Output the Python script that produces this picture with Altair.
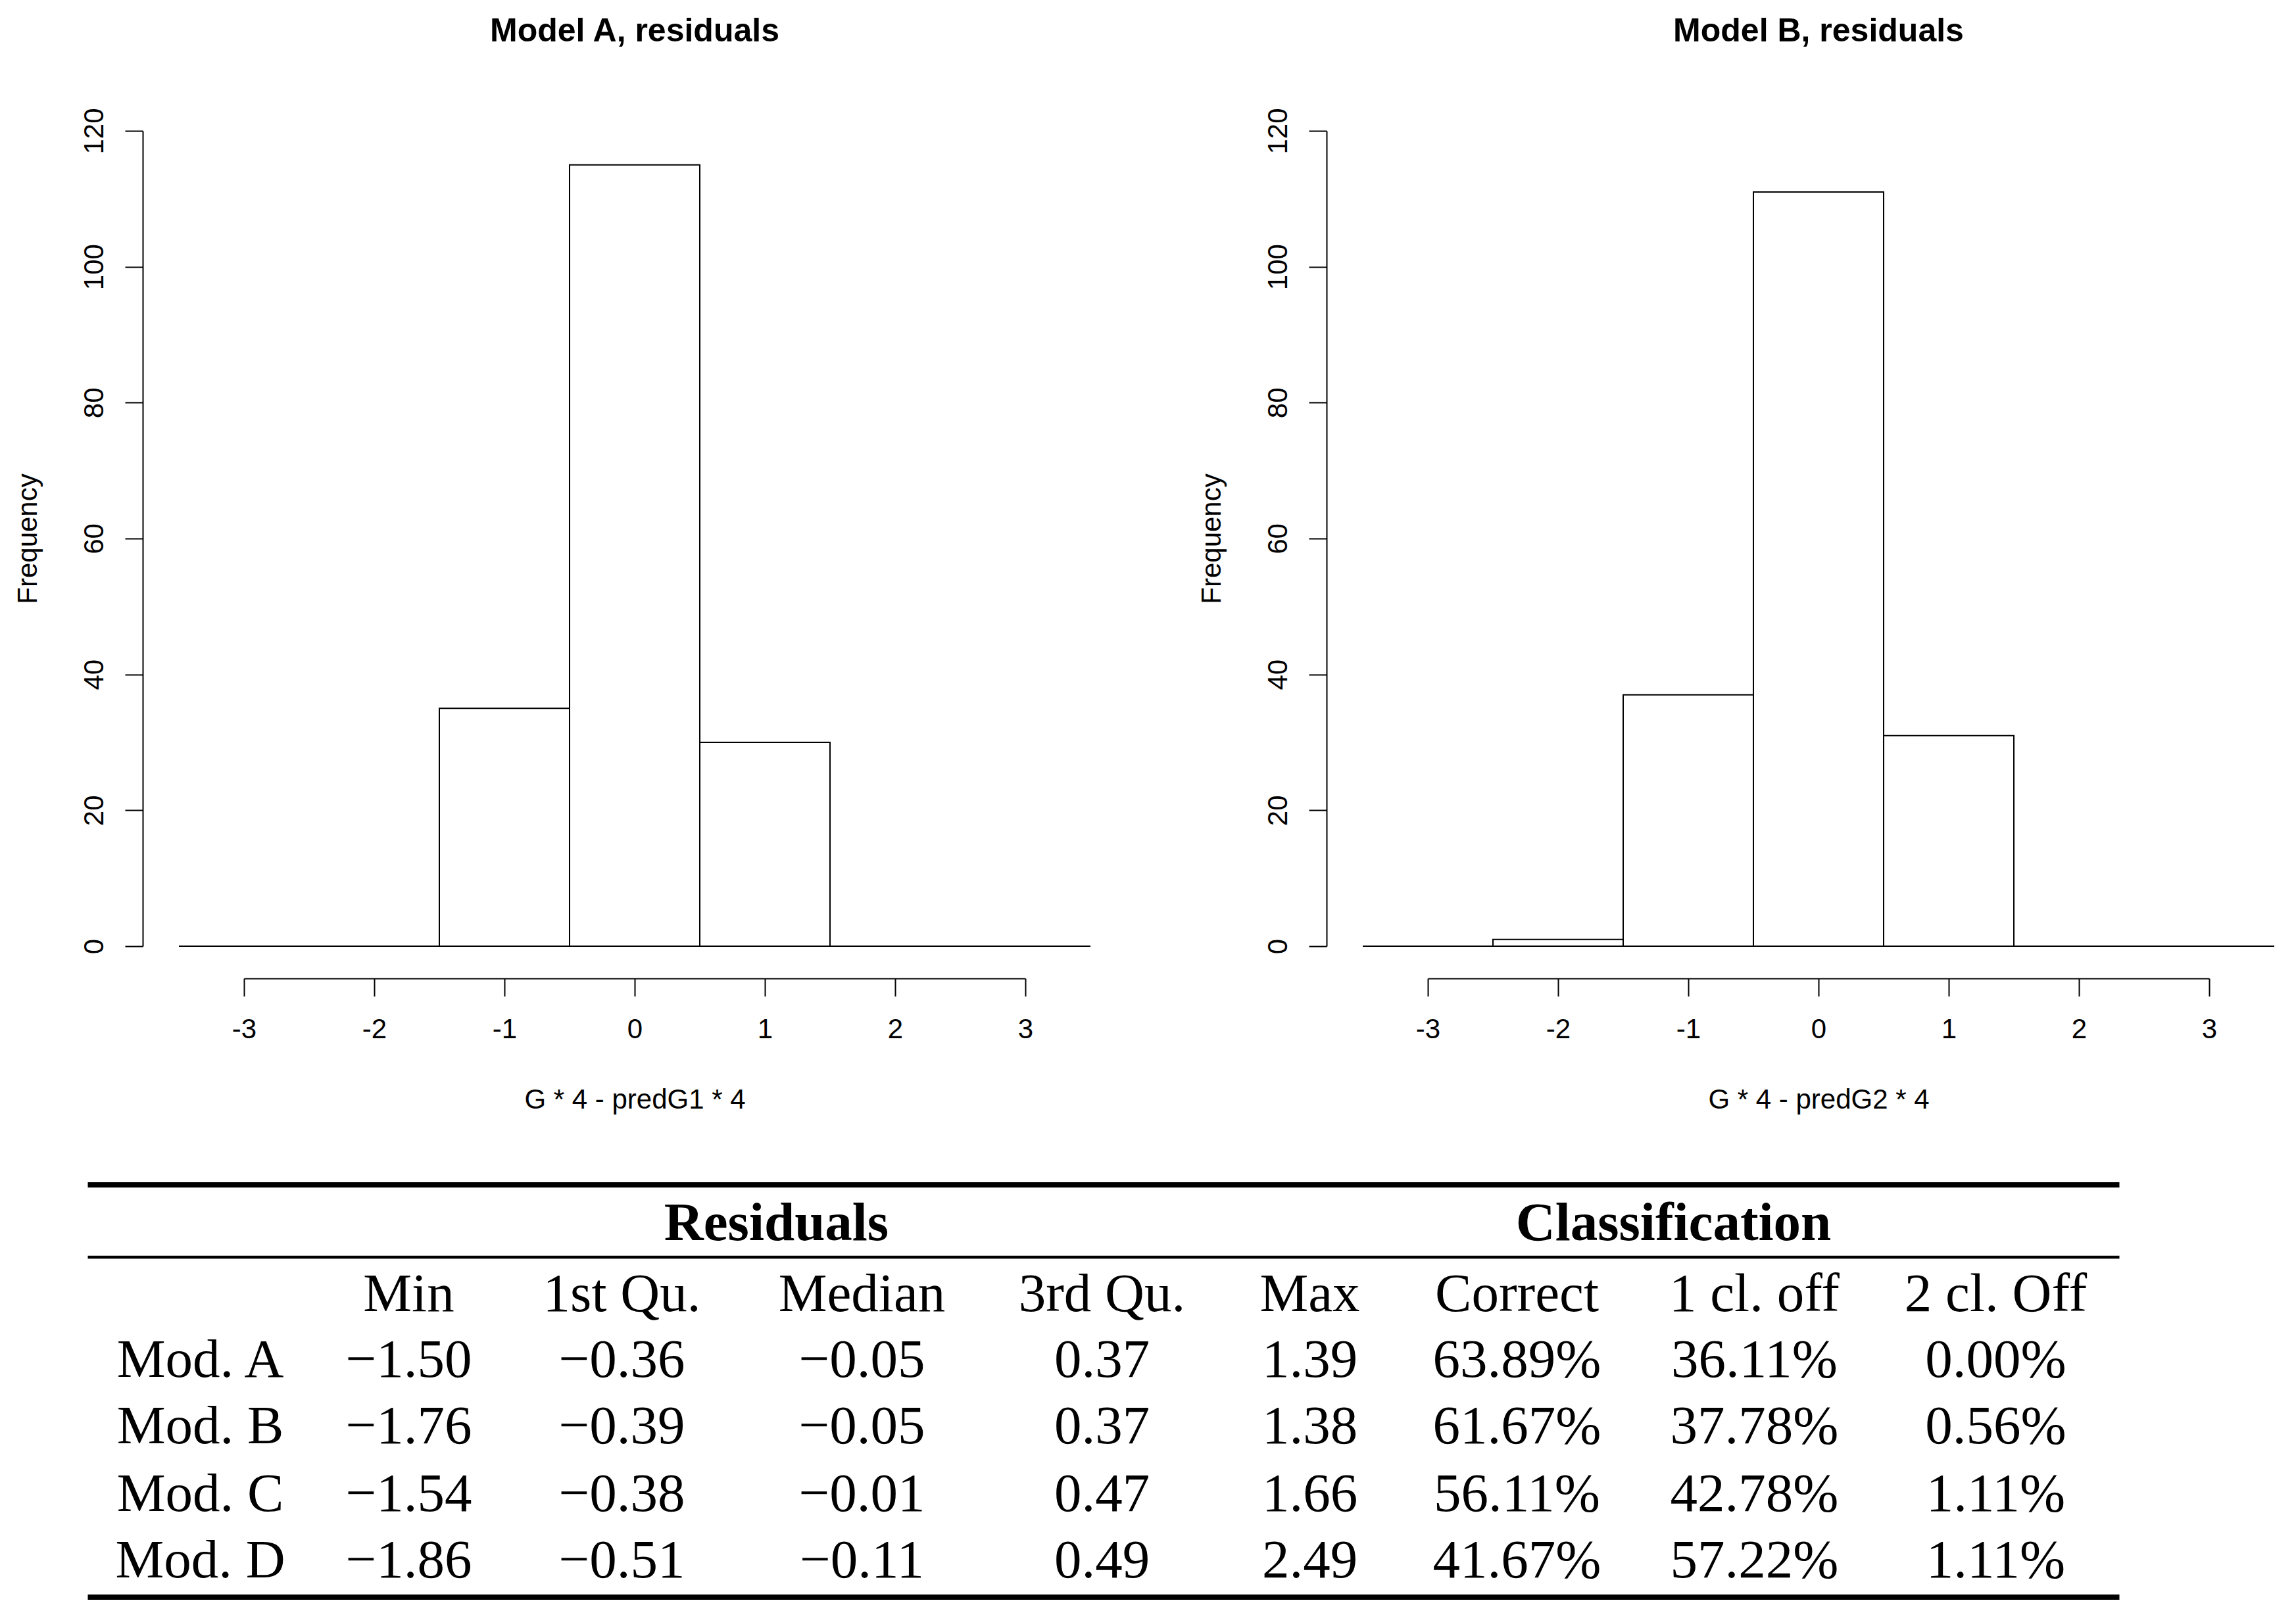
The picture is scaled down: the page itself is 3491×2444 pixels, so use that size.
import altair as alt
import pandas as pd

# ---------------- data ----------------
bin_starts = [-3.5, -2.5, -1.5, -0.5, 0.5, 1.5, 2.5]
bin_width = 1.0
counts_a = [0, 0, 35, 115, 30, 0, 0]
counts_b = [0, 1, 37, 111, 31, 0, 0]
x_ticks = [-3, -2, -1, 0, 1, 2, 3]
y_ticks = [0, 20, 40, 60, 80, 100, 120]

titles = ["Model A, residuals", "Model B, residuals"]
x_titles = ["G * 4 - predG1 * 4", "G * 4 - predG2 * 4"]

group_headers = ["Residuals", "Classification"]
col_headers = ["Min", "1st Qu.", "Median", "3rd Qu.", "Max", "Correct", "1 cl. off", "2 cl. Off"]
row_labels = ["Mod. A", "Mod. B", "Mod. C", "Mod. D"]
min_vals = [-1.50, -1.76, -1.54, -1.86]
q1_vals = [-0.36, -0.39, -0.38, -0.51]
median_vals = [-0.05, -0.05, -0.01, -0.11]
q3_vals = [0.37, 0.37, 0.47, 0.49]
max_vals = [1.39, 1.38, 1.66, 2.49]
correct_vals = [0.6389, 0.6167, 0.5611, 0.4167]
off1_vals = [0.3611, 0.3778, 0.4278, 0.5722]
off2_vals = [0.0000, 0.0056, 0.0111, 0.0111]

# ---------------- layout (pixels) ----------------
SANS = "Liberation Sans"
SERIF = "Liberation Serif"
PLOT_W, PLOT_H = 1188, 1240
# table: horizontal positions in page pixels, vertical relative to table top
TABLE_X0, TABLE_X1 = 371.5, 3223.5
TABLE_H = 684
COL_X = [305, 622, 946, 1311, 1676, 1992, 2307, 2668, 3035]
GROUP_X = [1181, 2545]
GROUP_Y = 136
HEADER_Y = 244
ROW_Y = [344, 445, 548, 649]
RULE_X = (134, 3223)
THICK_RULE_Y = [52, 679]
THIN_RULE_Y = [162]


def histogram(counts, title, xtitle):
    df = pd.DataFrame({
        "start": bin_starts,
        "end": [s + bin_width for s in bin_starts],
        "count": counts,
    })
    return alt.Chart(df).mark_rect(
        fill="white", stroke="black", strokeWidth=2
    ).encode(
        x=alt.X("start:Q",
                scale=alt.Scale(domain=[-3, 3], nice=False, zero=False),
                axis=alt.Axis(values=x_ticks, title=xtitle, offset=49,
                              labelBaseline="alphabetic", labelPadding=63,
                              labelFlush=False, labelOverlap=False,
                              labelExpr="replace(datum.label, '\u2212', '-')",
                              titleBaseline="alphabetic", titleY=197)),
        x2="end:Q",
        y=alt.Y("count:Q",
                scale=alt.Scale(domain=[0, 120], nice=False),
                axis=alt.Axis(values=y_ticks, title="Frequency", offset=154,
                              labelAngle=270, labelAlign="center",
                              labelBaseline="alphabetic", labelPadding=34,
                              labelFlush=False, labelOverlap=False,
                              titleAngle=270, titleAlign="center",
                              titleBaseline="alphabetic", titleX=-162,
                              titleY=PLOT_H / 2)),
        y2=alt.datum(0),
    ).properties(
        width=PLOT_W, height=PLOT_H,
        title=alt.TitleParams(text=title, font=SANS, fontSize=50,
                              fontWeight="bold", color="black",
                              anchor="middle", frame="group",
                              baseline="alphabetic", offset=51),
    )


hist_a = histogram(counts_a, titles[0], x_titles[0])
hist_b = histogram(counts_b, titles[1], x_titles[1])

# ---------------- table ----------------
xs = alt.Scale(domain=[TABLE_X0, TABLE_X1], nice=False, zero=False)
ys = alt.Scale(domain=[0, TABLE_H], nice=False, zero=False, reverse=True)
X = lambda f: alt.X(f, scale=xs, axis=None)
Y = lambda f: alt.Y(f, scale=ys, axis=None)

text_style = dict(font=SERIF, fontSize=83, align="center",
                  baseline="alphabetic", color="black")

group_df = pd.DataFrame({"text": group_headers, "x": GROUP_X,
                         "y": [GROUP_Y] * len(group_headers)})
header_df = pd.DataFrame({"text": col_headers, "x": COL_X[1:],
                          "y": [HEADER_Y] * len(col_headers)})
label_df = pd.DataFrame({"text": row_labels, "x": [COL_X[0]] * len(row_labels),
                         "y": ROW_Y})

num_rows = []
for ci, vals in enumerate([min_vals, q1_vals, median_vals, q3_vals, max_vals]):
    for ri, v in enumerate(vals):
        num_rows.append({"value": v, "x": COL_X[1 + ci], "y": ROW_Y[ri]})
num_df = pd.DataFrame(num_rows)

pct_rows = []
for ci, vals in enumerate([correct_vals, off1_vals, off2_vals]):
    for ri, v in enumerate(vals):
        pct_rows.append({"value": v, "x": COL_X[6 + ci], "y": ROW_Y[ri]})
pct_df = pd.DataFrame(pct_rows)

thick_df = pd.DataFrame({"y": THICK_RULE_Y, "x": [RULE_X[0]] * 2, "x2": [RULE_X[1]] * 2})
thin_df = pd.DataFrame({"y": THIN_RULE_Y, "x": [RULE_X[0]], "x2": [RULE_X[1]]})

thick_rules = alt.Chart(thick_df).mark_rule(color="black", strokeWidth=8).encode(
    x=X("x:Q"), x2="x2:Q", y=Y("y:Q"))
thin_rules = alt.Chart(thin_df).mark_rule(color="black", strokeWidth=4.5).encode(
    x=X("x:Q"), x2="x2:Q", y=Y("y:Q"))
groups = alt.Chart(group_df).mark_text(fontWeight="bold", **text_style).encode(
    x=X("x:Q"), y=Y("y:Q"), text="text:N")
headers = alt.Chart(header_df).mark_text(**text_style).encode(
    x=X("x:Q"), y=Y("y:Q"), text="text:N")
labels = alt.Chart(label_df).mark_text(**text_style).encode(
    x=X("x:Q"), y=Y("y:Q"), text="text:N")
nums = alt.Chart(num_df).mark_text(**text_style).encode(
    x=X("x:Q"), y=Y("y:Q"), text=alt.Text("value:Q", format=".2f"))
pcts = alt.Chart(pct_df).mark_text(**text_style).encode(
    x=X("x:Q"), y=Y("y:Q"), text=alt.Text("value:Q", format=".2%"))

table = alt.layer(thick_rules, thin_rules, groups, headers, labels, nums, pcts).properties(
    width=TABLE_X1 - TABLE_X0, height=TABLE_H)

chart = alt.vconcat(
    alt.hconcat(hist_a, hist_b, spacing=162),
    table,
    spacing=57,
).properties(
    padding={"left": 13, "top": 14, "right": 5, "bottom": 0},
    background="white",
).configure_view(stroke=None).configure_axis(
    grid=False,
    labelFont=SANS, labelFontSize=42, labelColor="black",
    titleFont=SANS, titleFontSize=42, titleFontWeight="normal", titleColor="black",
    domainColor="black", domainWidth=2,
    tickColor="black", tickWidth=2, tickSize=27,
)

chart.save("out.html", embed_options={"renderer": "svg", "actions": False})
